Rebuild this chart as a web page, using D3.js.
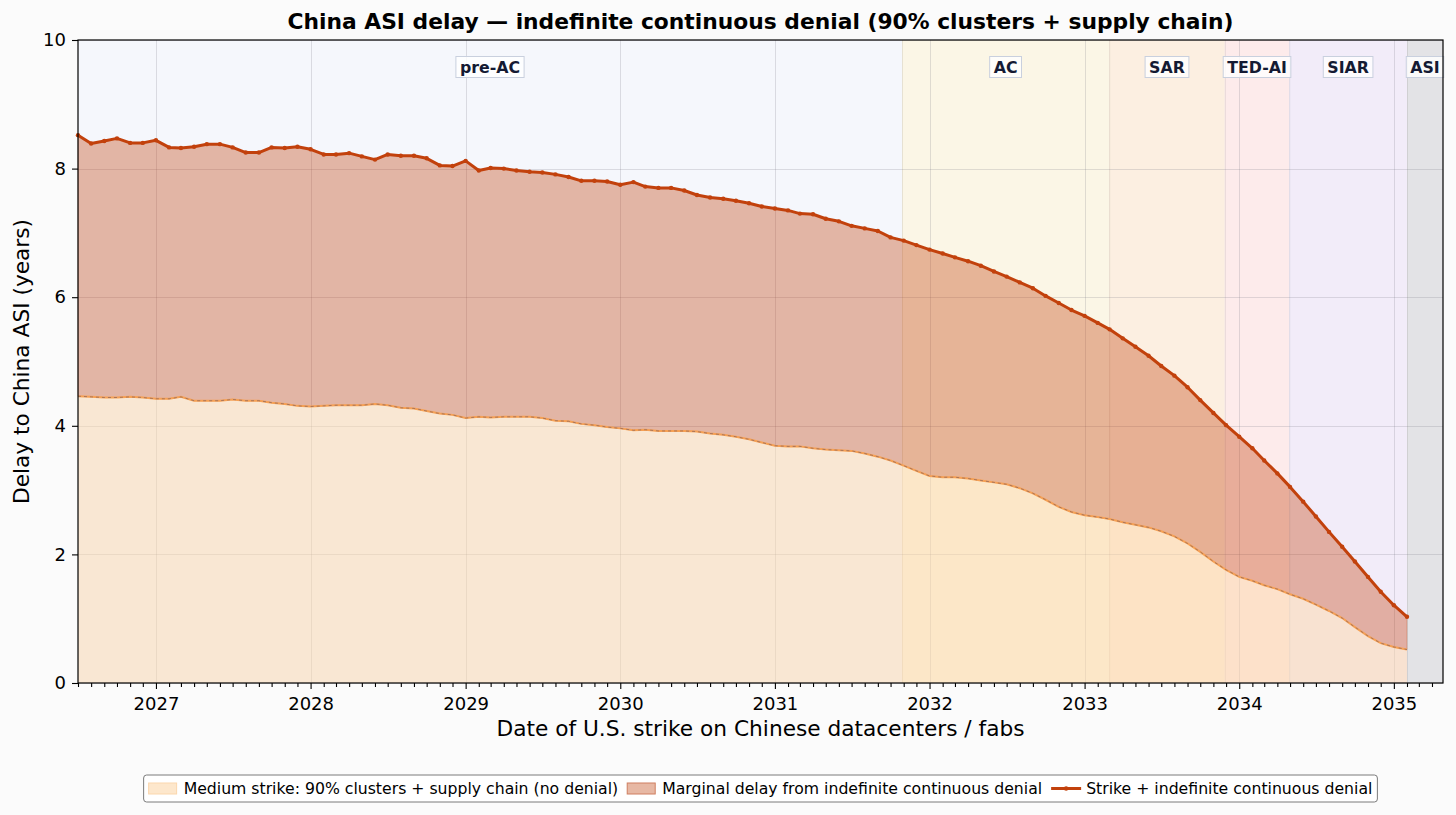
<!DOCTYPE html>
<html>
<head>
<meta charset="utf-8">
<script src="https://cdn.jsdelivr.net/npm/d3@7"></script>
<style>
  body { margin: 0; background: #fbfbfb; }
  svg { display: block; font-family: "DejaVu Sans", sans-serif; }
</style>
</head>
<body>
<svg id="chart" width="1456" height="815"></svg>
<script>
"use strict";

// strike dates, one per month
let strikeMonths = [
  "2026-07", "2026-08", "2026-09", "2026-10", "2026-11", "2026-12",
  "2027-01", "2027-02", "2027-03", "2027-04", "2027-05", "2027-06", "2027-07", "2027-08", "2027-09", "2027-10", "2027-11", "2027-12",
  "2028-01", "2028-02", "2028-03", "2028-04", "2028-05", "2028-06", "2028-07", "2028-08", "2028-09", "2028-10", "2028-11", "2028-12",
  "2029-01", "2029-02", "2029-03", "2029-04", "2029-05", "2029-06", "2029-07", "2029-08", "2029-09", "2029-10", "2029-11", "2029-12",
  "2030-01", "2030-02", "2030-03", "2030-04", "2030-05", "2030-06", "2030-07", "2030-08", "2030-09", "2030-10", "2030-11", "2030-12",
  "2031-01", "2031-02", "2031-03", "2031-04", "2031-05", "2031-06", "2031-07", "2031-08", "2031-09", "2031-10", "2031-11", "2031-12",
  "2032-01", "2032-02", "2032-03", "2032-04", "2032-05", "2032-06", "2032-07", "2032-08", "2032-09", "2032-10", "2032-11", "2032-12",
  "2033-01", "2033-02", "2033-03", "2033-04", "2033-05", "2033-06", "2033-07", "2033-08", "2033-09", "2033-10", "2033-11", "2033-12",
  "2034-01", "2034-02", "2034-03", "2034-04", "2034-05", "2034-06", "2034-07", "2034-08", "2034-09", "2034-10", "2034-11", "2034-12",
  "2035-01", "2035-02"
];

// strike + indefinite continuous denial (years)
let denialDelay = [
  8.52, 8.39, 8.43, 8.47, 8.40, 8.40,
  8.44, 8.33, 8.32, 8.34, 8.38, 8.38, 8.33, 8.25, 8.25, 8.33, 8.32, 8.34,
  8.30, 8.22, 8.22, 8.24, 8.19, 8.14, 8.22, 8.20, 8.20, 8.16, 8.05, 8.04,
  8.12, 7.97, 8.01, 8.00, 7.97, 7.95, 7.94, 7.91, 7.87, 7.81, 7.81, 7.80,
  7.75, 7.79, 7.72, 7.70, 7.70, 7.66, 7.59, 7.55, 7.53, 7.50, 7.46, 7.41,
  7.38, 7.35, 7.30, 7.29, 7.22, 7.18, 7.11, 7.07, 7.03, 6.93, 6.88, 6.81,
  6.74, 6.68, 6.62, 6.56, 6.49, 6.40, 6.32, 6.23, 6.14, 6.02, 5.91, 5.80,
  5.71, 5.60, 5.50, 5.36, 5.23, 5.09, 4.93, 4.78, 4.60, 4.40, 4.20, 4.01,
  3.83, 3.65, 3.46, 3.26, 3.05, 2.82, 2.59, 2.35, 2.12, 1.89, 1.65, 1.42,
  1.21, 1.03
];

// medium strike only, no denial (years)
let strikeOnlyDelay = [
  4.46, 4.45, 4.44, 4.44, 4.45, 4.44,
  4.42, 4.42, 4.45, 4.39, 4.39, 4.39, 4.41, 4.39, 4.39, 4.36, 4.34, 4.31,
  4.30, 4.31, 4.32, 4.32, 4.32, 4.34, 4.32, 4.28, 4.27, 4.23, 4.19, 4.17,
  4.12, 4.14, 4.13, 4.14, 4.14, 4.14, 4.12, 4.08, 4.07, 4.03, 4.01, 3.98,
  3.96, 3.93, 3.94, 3.92, 3.92, 3.92, 3.91, 3.88, 3.86, 3.83, 3.79, 3.74,
  3.69, 3.68, 3.68, 3.65, 3.63, 3.62, 3.61, 3.57, 3.52, 3.46, 3.38, 3.30,
  3.22, 3.20, 3.20, 3.18, 3.15, 3.12, 3.09, 3.03, 2.95, 2.85, 2.74, 2.66,
  2.61, 2.58, 2.55, 2.50, 2.46, 2.42, 2.36, 2.28, 2.17, 2.04, 1.89, 1.76,
  1.65, 1.59, 1.52, 1.46, 1.38, 1.31, 1.22, 1.12, 1.01, 0.87, 0.73, 0.62,
  0.56, 0.52
];

let yearTicks = ["2027", "2028", "2029", "2030", "2031", "2032", "2033", "2034", "2035"];
let delayTicks = [0, 2, 4, 6, 8, 10];
let dateRange = ["2026-07-01", "2035-04-27"];

let phaseLabels = ["pre-AC", "AC", "SAR", "TED-AI", "SIAR", "ASI"];
let phaseStarts = ["2026-07-01", "2031-10-28", "2033-02-28", "2033-11-28", "2034-04-29", "2035-02-01"];
let phaseEnds   = ["2031-10-28", "2033-02-28", "2033-11-28", "2034-04-29", "2035-02-01", "2035-04-27"];

let legendLabels = [
  "Medium strike: 90% clusters + supply chain (no denial)",
  "Marginal delay from indefinite continuous denial",
  "Strike + indefinite continuous denial"
];

// styles
const phaseFill = {
  "pre-AC": "#f5f7fc", "AC": "#fbf6e6", "SAR": "#fcefe1",
  "TED-AI": "#fdebeb", "SIAR": "#f2ecf9", "ASI": "#e3e3e6"
};
const lineColor = "#c2410c";
const lowFill = "#fed7aa";
const edgeOrange = "#f6a155";

const width = 1456, height = 815;
const margin = { top: 40, right: 13, bottom: 132, left: 78 };
const svg = d3.select("#chart");
const parseMonth = d3.timeParse("%Y-%m");
const parseDay = d3.timeParse("%Y-%m-%d");
const parseYear = d3.timeParse("%Y");

let rows = strikeMonths.map((m, i) => ({
  date: parseMonth(m), low: strikeOnlyDelay[i], high: denialDelay[i]
}));
let phases = phaseLabels.map((p, i) => ({
  label: p, start: parseDay(phaseStarts[i]), end: parseDay(phaseEnds[i])
}));

let x = d3.scaleTime()
  .domain(dateRange.map(parseDay))
  .range([margin.left, width - margin.right]);
let y = d3.scaleLinear()
  .domain([0, 10])
  .range([height - margin.bottom, margin.top]);

const plotTop = margin.top, plotBottom = height - margin.bottom;
const midX = (margin.left + width - margin.right) / 2;

// phase backgrounds
let phaseG = svg.append("g");
phaseG.selectAll("rect").data(phases).join("rect")
  .attr("x", d => x(d.start))
  .attr("width", d => x(d.end) - x(d.start))
  .attr("y", plotTop)
  .attr("height", plotBottom - plotTop)
  .attr("fill", d => phaseFill[d.label]);
phaseG.selectAll("line").data(phases.slice(1)).join("line")
  .attr("x1", d => x(d.start) + 0.5).attr("x2", d => x(d.start) + 0.5)
  .attr("y1", plotTop).attr("y2", plotBottom)
  .attr("stroke", d => d3.color(phaseFill[d.label]).darker(0.25))
  .attr("stroke-width", 1);

// grid
let gridG = svg.append("g").attr("stroke", "rgba(120,120,130,0.22)").attr("stroke-width", 1);
gridG.selectAll(".gx").data(yearTicks).join("line")
  .attr("x1", d => Math.round(x(parseYear(d))) + 0.5)
  .attr("x2", d => Math.round(x(parseYear(d))) + 0.5)
  .attr("y1", plotTop).attr("y2", plotBottom);
gridG.selectAll(".gy").data(delayTicks).join("line")
  .attr("x1", margin.left).attr("x2", width - margin.right)
  .attr("y1", d => Math.round(y(d)) + 0.5)
  .attr("y2", d => Math.round(y(d)) + 0.5);

// areas
let lowArea = d3.area().x(d => x(d.date)).y0(y(0)).y1(d => y(d.low));
let gapArea = d3.area().x(d => x(d.date)).y0(d => y(d.low)).y1(d => y(d.high));

svg.append("path").datum(rows)
  .attr("d", lowArea)
  .attr("fill", lowFill)
  .attr("fill-opacity", 0.5);

svg.append("path").datum(rows)
  .attr("d", gapArea)
  .attr("fill", lineColor)
  .attr("fill-opacity", 0.36)
  .attr("stroke", lineColor)
  .attr("stroke-opacity", 0.25)
  .attr("stroke-width", 1);

// no-denial edge
let lowLine = d3.line().x(d => x(d.date)).y(d => y(d.low));
svg.append("path").datum(rows)
  .attr("d", lowLine)
  .attr("fill", "none")
  .attr("stroke", edgeOrange)
  .attr("stroke-width", 2);
svg.append("path").datum(rows)
  .attr("d", lowLine)
  .attr("fill", "none")
  .attr("stroke", "rgba(110,80,90,0.55)")
  .attr("stroke-width", 1)
  .attr("stroke-dasharray", "3,3");

// denial line + markers
let highLine = d3.line().x(d => x(d.date)).y(d => y(d.high));
svg.append("path").datum(rows)
  .attr("d", highLine)
  .attr("fill", "none")
  .attr("stroke", lineColor)
  .attr("stroke-width", 3)
  .attr("stroke-linejoin", "round");
svg.append("g").selectAll("circle").data(rows).join("circle")
  .attr("cx", d => x(d.date))
  .attr("cy", d => y(d.high))
  .attr("r", 2.2)
  .attr("fill", lineColor);

// phase labels
let labelG = svg.append("g").selectAll("g").data(phases).join("g")
  .attr("transform", d => `translate(${(x(d.start) + x(d.end)) / 2},67)`);
labelG.append("rect")
  .attr("fill", "rgba(255,255,255,0.8)")
  .attr("stroke", "#c9d0de")
  .attr("stroke-width", 1);
labelG.append("text")
  .attr("text-anchor", "middle")
  .attr("dy", "0.36em")
  .attr("font-size", 15.8)
  .attr("font-weight", "bold")
  .attr("fill", "#141a33")
  .text(d => d.label);
labelG.each(function () {
  let t = d3.select(this).select("text").node().getBBox();
  d3.select(this).select("rect")
    .attr("x", t.x - 4).attr("y", -10.5)
    .attr("width", t.width + 8).attr("height", 21);
});

// axes
let xAxis = d3.axisBottom(x)
  .tickValues(yearTicks.map(parseYear))
  .tickFormat(d3.timeFormat("%Y"))
  .tickSize(6).tickPadding(8);
let minorMonths = d3.timeMonth.range(x.domain()[0], x.domain()[1]).filter(d => d.getMonth() !== 0);
let xMinor = d3.axisBottom(x).tickValues(minorMonths).tickFormat("").tickSize(4);
let yAxis = d3.axisLeft(y).tickValues(delayTicks).tickSize(6).tickPadding(6);

function styleAxis(g) {
  g.select(".domain").remove();
  g.selectAll("line").attr("stroke", "#000").attr("stroke-width", 1.1);
  g.selectAll("text").attr("font-size", 18).attr("fill", "#000").attr("font-family", "DejaVu Sans");
}
svg.append("g").attr("transform", `translate(0,${plotBottom})`).call(xMinor).call(styleAxis);
svg.append("g").attr("transform", `translate(0,${plotBottom})`).call(xAxis).call(styleAxis);
svg.append("g").attr("transform", `translate(${margin.left},0)`).call(yAxis).call(styleAxis);

// frame
svg.append("rect")
  .attr("x", margin.left).attr("y", plotTop)
  .attr("width", width - margin.right - margin.left)
  .attr("height", plotBottom - plotTop)
  .attr("fill", "none")
  .attr("stroke", "#000")
  .attr("stroke-width", 1.2);

// titles
svg.append("text")
  .attr("x", midX).attr("y", 29)
  .attr("text-anchor", "middle")
  .attr("font-size", 21.8).attr("font-weight", "bold")
  .text("China ASI delay \u2014 indefinite continuous denial (90% clusters + supply chain)");
svg.append("text")
  .attr("x", midX).attr("y", 736)
  .attr("text-anchor", "middle")
  .attr("font-size", 21.7)
  .text("Date of U.S. strike on Chinese datacenters / fabs");
svg.append("text")
  .attr("transform", `translate(29,${(plotTop + plotBottom) / 2}) rotate(-90)`)
  .attr("text-anchor", "middle")
  .attr("font-size", 21.7)
  .text("Delay to China ASI (years)");

// legend
let legend = svg.append("g");
let legendBox = legend.append("rect")
  .attr("y", 775).attr("height", 27).attr("rx", 3)
  .attr("fill", "#fff").attr("stroke", "#7a7a7a").attr("stroke-width", 1);
let lx = 0;
let items = legend.append("g");
legendLabels.forEach((label, i) => {
  let g = items.append("g").attr("transform", `translate(${lx},0)`);
  if (i === 0) {
    g.append("rect").attr("x", 0).attr("y", 783).attr("width", 28).attr("height", 11)
      .attr("fill", "#fde7cc").attr("stroke", "#fbd7ad");
  } else if (i === 1) {
    g.append("rect").attr("x", 0).attr("y", 783).attr("width", 28).attr("height", 11)
      .attr("fill", "#e7b8a4").attr("stroke", "#cf7f60");
  } else {
    g.append("line").attr("x1", 0).attr("x2", 30).attr("y1", 788.5).attr("y2", 788.5)
      .attr("stroke", lineColor).attr("stroke-width", 3);
    g.append("circle").attr("cx", 15).attr("cy", 788.5).attr("r", 2.2).attr("fill", lineColor);
  }
  let t = g.append("text").attr("x", 35).attr("y", 794)
    .attr("font-size", 15.7).attr("fill", "#000").text(label);
  lx += 35 + t.node().getComputedTextLength() + 9;
});
let totalW = lx - 9;
let lStart = midX - totalW / 2;
items.attr("transform", `translate(${lStart},0)`);
legendBox.attr("x", lStart - 5).attr("width", totalW + 10);
</script>
</body>
</html>
